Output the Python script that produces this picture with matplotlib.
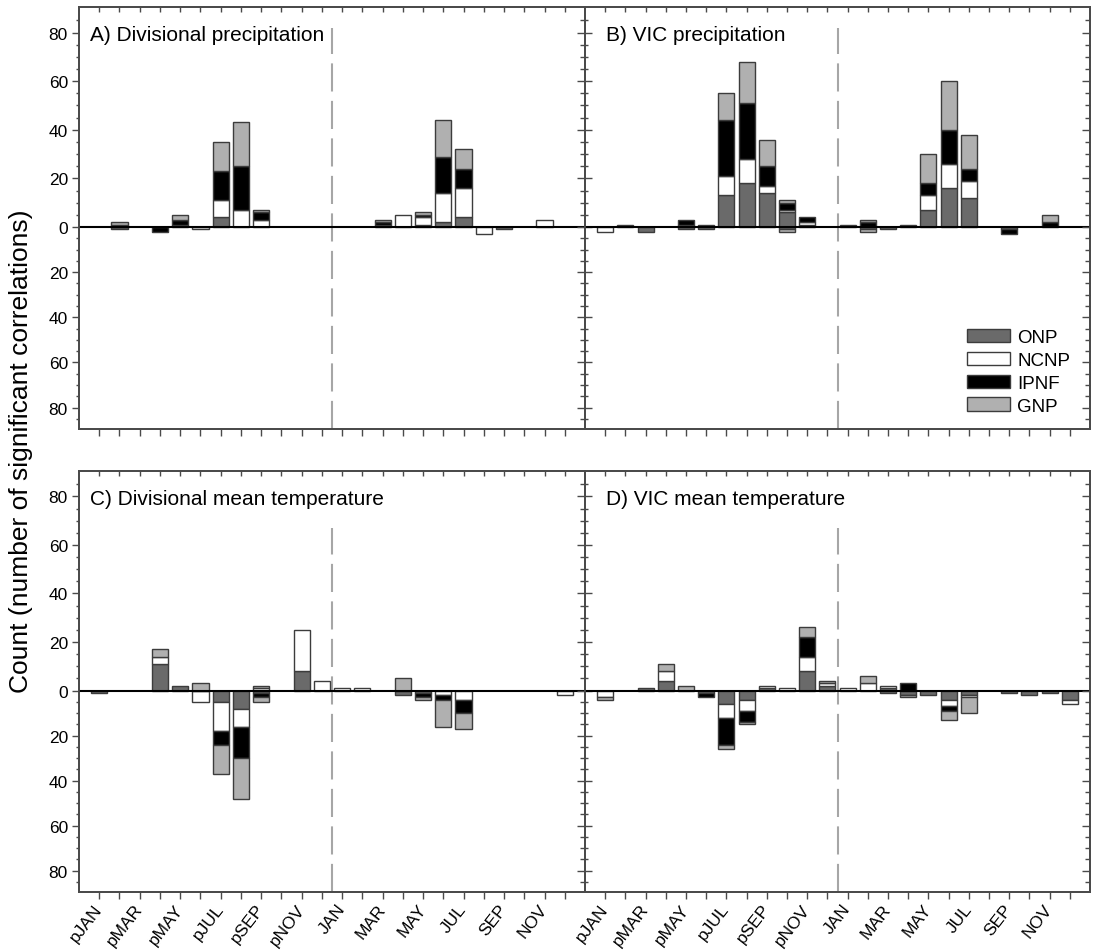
"""Monthly counts of significant climate/growth correlations for four parks.

Stacked bars: positive correlations stacked upward, negative ones downward,
for the previous year (pJAN..pDEC) and the current year (JAN..DEC).
"""

import matplotlib

matplotlib.use("Agg")
import matplotlib.pyplot as plt
import numpy as np
from matplotlib.ticker import FixedLocator, FuncFormatter

plt.rcParams["font.family"] = ["Liberation Sans", "DejaVu Sans"]

MONTHS = ["pJAN", "pFEB", "pMAR", "pAPR", "pMAY", "pJUN", "pJUL", "pAUG", "pSEP", "pOCT", "pNOV", "pDEC",
          "JAN", "FEB", "MAR", "APR", "MAY", "JUN", "JUL", "AUG", "SEP", "OCT", "NOV", "DEC"]
SERIES = ["ONP", "NCNP", "IPNF", "GNP"]
PANEL_TITLES = ["A) Divisional precipitation", "B) VIC precipitation",
                "C) Divisional mean temperature", "D) VIC mean temperature"]

# A) Divisional precipitation
A_ONP_POS = [0, 0, 0, 0, 1, 0, 4, 0, 0, 0, 0, 0, 0, 0, 0, 0, 1, 2, 4, 0, 0, 0, 0, 0]
A_NCNP_POS = [0, 1, 0, 0, 0, 0, 7, 7, 3, 0, 0, 0, 0, 0, 1, 5, 3, 12, 12, 0, 0, 0, 3, 0]
A_IPNF_POS = [0, 0, 0, 0, 2, 0, 12, 18, 3, 0, 0, 0, 0, 0, 1, 0, 1, 15, 8, 0, 0, 0, 0, 0]
A_GNP_POS = [0, 1, 0, 0, 2, 0, 12, 18, 1, 0, 0, 0, 0, 0, 1, 0, 1, 15, 8, 0, 0, 0, 0, 0]
A_ONP_NEG = [0, 1, 0, 0, 0, 0, 0, 0, 0, 0, 0, 0, 0, 0, 0, 0, 0, 0, 0, 0, 1, 0, 0, 0]
A_NCNP_NEG = [0, 0, 0, 0, 0, 1, 0, 0, 0, 0, 0, 0, 0, 0, 0, 0, 0, 0, 0, 3, 0, 0, 0, 0]
A_IPNF_NEG = [0, 0, 0, 2, 0, 0, 0, 0, 0, 0, 0, 0, 0, 0, 0, 0, 0, 0, 0, 0, 0, 0, 0, 0]
A_GNP_NEG = [0, 0, 0, 0, 0, 0, 0, 0, 0, 0, 0, 0, 0, 0, 0, 0, 0, 0, 0, 0, 0, 0, 0, 0]

# B) VIC precipitation
B_ONP_POS = [0, 0, 0, 0, 0, 1, 13, 18, 14, 6, 1, 0, 0, 0, 0, 1, 7, 16, 12, 0, 0, 0, 0, 0]
B_NCNP_POS = [0, 1, 0, 0, 1, 0, 8, 10, 3, 1, 1, 0, 1, 0, 0, 0, 6, 10, 7, 0, 0, 0, 0, 0]
B_IPNF_POS = [0, 0, 0, 0, 2, 0, 23, 23, 8, 3, 2, 0, 0, 2, 0, 0, 5, 14, 5, 0, 0, 0, 2, 0]
B_GNP_POS = [0, 0, 0, 0, 0, 0, 11, 17, 11, 1, 0, 0, 0, 1, 0, 0, 12, 20, 14, 0, 0, 0, 3, 0]
B_ONP_NEG = [0, 0, 2, 0, 1, 1, 0, 0, 0, 1, 0, 0, 0, 1, 1, 0, 0, 0, 0, 0, 1, 0, 0, 0]
B_NCNP_NEG = [2, 0, 0, 0, 0, 0, 0, 0, 0, 0, 0, 0, 0, 0, 0, 0, 0, 0, 0, 0, 0, 0, 0, 0]
B_IPNF_NEG = [0, 0, 0, 0, 0, 0, 0, 0, 0, 0, 0, 0, 0, 0, 0, 0, 0, 0, 0, 0, 2, 0, 0, 0]
B_GNP_NEG = [0, 0, 0, 0, 0, 0, 0, 0, 0, 1, 0, 0, 0, 1, 0, 0, 0, 0, 0, 0, 0, 0, 0, 0]

# C) Divisional mean temperature
C_ONP_POS = [0, 0, 0, 11, 2, 0, 0, 0, 0, 0, 8, 0, 0, 0, 0, 0, 0, 0, 0, 0, 0, 0, 0, 0]
C_NCNP_POS = [0, 0, 0, 3, 0, 0, 0, 0, 1, 0, 17, 4, 1, 1, 0, 0, 0, 0, 0, 0, 0, 0, 0, 0]
C_IPNF_POS = [0, 0, 0, 0, 0, 0, 0, 0, 0, 0, 0, 0, 0, 0, 0, 0, 0, 0, 0, 0, 0, 0, 0, 0]
C_GNP_POS = [0, 0, 0, 3, 0, 3, 0, 0, 1, 0, 0, 0, 0, 0, 0, 5, 0, 0, 0, 0, 0, 0, 0, 0]
C_ONP_NEG = [1, 0, 0, 0, 0, 0, 5, 8, 1, 0, 0, 0, 0, 0, 0, 2, 1, 0, 0, 0, 0, 0, 0, 0]
C_NCNP_NEG = [0, 0, 0, 0, 0, 5, 13, 8, 0, 0, 0, 0, 0, 0, 0, 0, 0, 2, 4, 0, 0, 0, 0, 2]
C_IPNF_NEG = [0, 0, 0, 0, 0, 0, 6, 14, 2, 0, 0, 0, 0, 0, 0, 0, 2, 2, 6, 0, 0, 0, 0, 0]
C_GNP_NEG = [0, 0, 0, 0, 0, 0, 13, 18, 2, 0, 0, 0, 0, 0, 0, 0, 1, 12, 7, 0, 0, 0, 0, 0]

# D) VIC mean temperature
D_ONP_POS = [0, 0, 1, 4, 0, 0, 0, 0, 1, 0, 8, 2, 0, 0, 1, 0, 0, 0, 0, 0, 0, 0, 0, 0]
D_NCNP_POS = [0, 0, 0, 4, 0, 0, 0, 0, 1, 1, 6, 1, 1, 3, 1, 0, 0, 0, 0, 0, 0, 0, 0, 0]
D_IPNF_POS = [0, 0, 0, 0, 0, 0, 0, 0, 0, 0, 8, 0, 0, 0, 0, 3, 0, 0, 0, 0, 0, 0, 0, 0]
D_GNP_POS = [0, 0, 0, 3, 2, 0, 0, 0, 0, 0, 4, 1, 0, 3, 0, 0, 0, 0, 0, 0, 0, 0, 0, 0]
D_ONP_NEG = [0, 0, 0, 0, 0, 1, 6, 4, 0, 0, 0, 0, 0, 0, 1, 2, 2, 4, 2, 0, 1, 2, 1, 4]
D_NCNP_NEG = [3, 0, 0, 0, 0, 0, 6, 5, 0, 0, 0, 0, 0, 0, 0, 0, 0, 3, 1, 0, 0, 0, 0, 2]
D_IPNF_NEG = [0, 0, 0, 0, 0, 2, 12, 5, 0, 0, 0, 0, 0, 0, 0, 0, 0, 2, 0, 0, 0, 0, 0, 0]
D_GNP_NEG = [1, 0, 0, 0, 0, 0, 2, 1, 0, 0, 0, 0, 0, 0, 0, 1, 0, 4, 7, 0, 0, 0, 0, 0]

COLORS = {"ONP": "#6a6a6a", "NCNP": "#ffffff", "IPNF": "#000000", "GNP": "#b0b0b0"}
EDGE = "#3c3c3c"
SPINE = "#4a4a4a"

# The negative half of the original y axis is drawn slightly compressed.
NEG_SQUEEZE = 0.928
Y_MIN, Y_MAX = -89.5, 90.5

FIG_W, FIG_H = 1093, 953


def forward(v):
    v = np.asarray(v, dtype=float)
    return np.where(v >= 0, v, v * NEG_SQUEEZE)


def inverse(v):
    v = np.asarray(v, dtype=float)
    return np.where(v >= 0, v, v / NEG_SQUEEZE)


def style_y(ax, direction, labels):
    ax.set_yscale("function", functions=(forward, inverse))
    ax.set_ylim(Y_MIN, Y_MAX)
    ax.yaxis.set_major_locator(FixedLocator(np.arange(-80, 81, 20)))
    ax.yaxis.set_minor_locator(FixedLocator(np.arange(-85, 86, 5)))
    ax.yaxis.set_major_formatter(FuncFormatter(lambda v, _: f"{abs(v):.0f}"))
    ax.tick_params(axis="y", which="major", direction=direction, length=5, width=1, color=SPINE,
                   labelsize=12.5, pad=3, labelleft=labels, labelright=False)
    ax.tick_params(axis="y", which="minor", direction=direction, length=2.5, width=1, color=SPINE)


def draw_panel(ax, title, title_px, pos, neg, dash_top, left_labels, bottom_labels):
    x = np.arange(1, len(MONTHS) + 1)
    cum_pos = np.zeros(len(MONTHS))
    cum_neg = np.zeros(len(MONTHS))
    for name, p, n in zip(SERIES, pos, neg):
        p = np.asarray(p, dtype=float)
        n = np.asarray(n, dtype=float)
        mp = p > 0
        ax.bar(x[mp], p[mp], bottom=cum_pos[mp], width=0.8, color=COLORS[name],
               edgecolor=EDGE, linewidth=1.0, zorder=2)
        mn = n > 0
        ax.bar(x[mn], -n[mn], bottom=-cum_neg[mn], width=0.8, color=COLORS[name],
               edgecolor=EDGE, linewidth=1.0, zorder=2)
        cum_pos += p
        cum_neg += n

    ax.set_xlim(0, 25)
    style_y(ax, "out" if left_labels else "in", left_labels)
    ax.axhline(0, color="black", linewidth=1.5, zorder=3)
    ax.plot([12.5, 12.5], [Y_MIN, dash_top], color="#a6a6a6", linewidth=1.5,
            dashes=(13.5, 4.5), zorder=1)

    ax.set_xticks(x)
    ax.tick_params(axis="x", direction="out", length=5, width=1, color=SPINE, pad=5)
    if bottom_labels:
        ax.set_xticklabels([m if i % 2 == 0 else "" for i, m in enumerate(MONTHS)],
                           rotation=52, ha="right", va="center", rotation_mode="anchor", fontsize=12.5)
    else:
        ax.set_xticklabels([])

    top = ax.secondary_xaxis("top")
    top.set_xticks(x)
    top.tick_params(direction="in", length=3.5, width=1, color=SPINE, labeltop=False)
    top.spines["top"].set_visible(False)

    right = ax.twinx()
    style_y(right, "in", False)
    right.tick_params(axis="y", which="major", length=5.5)
    right.tick_params(axis="y", which="minor", length=3.5)

    for a in (ax, right):
        for spine in a.spines.values():
            spine.set_color(SPINE)
            spine.set_linewidth(1.3)

    # title placed at a fixed pixel offset from the figure's left edge
    bbox = ax.get_position()
    tx = (title_px / FIG_W - bbox.x0) / bbox.width
    ax.text(tx, 0.922, title, transform=ax.transAxes, fontsize=15, va="baseline", ha="left")
    return ax


def main() -> None:
    fig = plt.figure(figsize=(FIG_W / 100, FIG_H / 100), dpi=100)
    W, H = FIG_W, FIG_H
    left, mid, right = 79, 585, 1090
    rects = {
        "A": [left / W, 1 - 430 / H, (mid - left) / W, 422 / H],
        "B": [mid / W, 1 - 430 / H, (right - mid) / W, 422 / H],
        "C": [left / W, 1 - 893 / H, (mid - left) / W, 421 / H],
        "D": [mid / W, 1 - 893 / H, (right - mid) / W, 421 / H],
    }
    panels = [
        ("A", PANEL_TITLES[0], 90, [A_ONP_POS, A_NCNP_POS, A_IPNF_POS, A_GNP_POS],
         [A_ONP_NEG, A_NCNP_NEG, A_IPNF_NEG, A_GNP_NEG], 82, True, False),
        ("B", PANEL_TITLES[1], 606, [B_ONP_POS, B_NCNP_POS, B_IPNF_POS, B_GNP_POS],
         [B_ONP_NEG, B_NCNP_NEG, B_IPNF_NEG, B_GNP_NEG], 82, False, False),
        ("C", PANEL_TITLES[2], 90, [C_ONP_POS, C_NCNP_POS, C_IPNF_POS, C_GNP_POS],
         [C_ONP_NEG, C_NCNP_NEG, C_IPNF_NEG, C_GNP_NEG], 67, True, True),
        ("D", PANEL_TITLES[3], 606, [D_ONP_POS, D_NCNP_POS, D_IPNF_POS, D_GNP_POS],
         [D_ONP_NEG, D_NCNP_NEG, D_IPNF_NEG, D_GNP_NEG], 67, False, True),
    ]
    axes = {}
    for key, title, tx, pos, neg, dash_top, left_labels, bottom_labels in panels:
        ax = fig.add_axes(rects[key])
        axes[key] = draw_panel(ax, title, tx, pos, neg, dash_top, left_labels, bottom_labels)

    handles = [plt.Rectangle((0, 0), 1, 1, facecolor=COLORS[s], edgecolor=EDGE, linewidth=1.0)
               for s in SERIES]
    axes["B"].legend(handles, SERIES, loc="lower left", bbox_to_anchor=(0.73, 0.003),
                     frameon=False, fontsize=13.5, handlelength=2.3, handleheight=0.7,
                     handletextpad=0.4, labelspacing=0.3, borderpad=0.2)

    fig.text(0.019, 0.527, "Count (number of significant correlations)", rotation=90,
             ha="center", va="center", fontsize=19)
    fig.savefig("out.png", dpi=100)
    plt.close(fig)


if __name__ == "__main__":
    main()
